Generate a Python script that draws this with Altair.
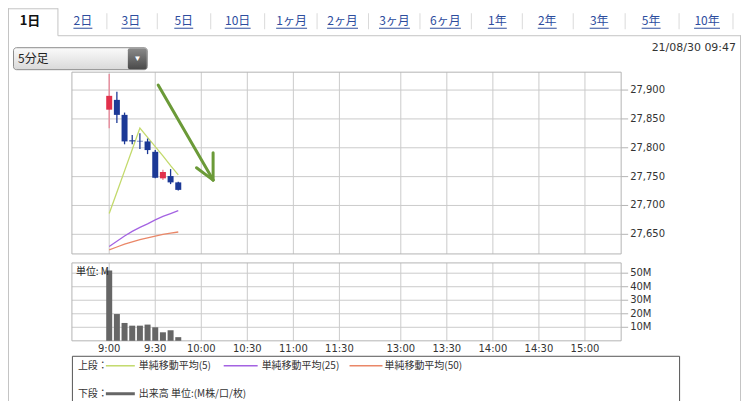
import altair as alt
import pandas as pd

# ---------------- data ----------------
times = [0, 5, 10, 15, 20, 25, 30, 35, 40, 45]          # minutes after 9:00
opens = [27866, 27883, 27857, 27813, 27812, 27811, 27793, 27747, 27751, 27740]
highs = [27928, 27897, 27861, 27822, 27825, 27816, 27796, 27762, 27763, 27741]
lows = [27834, 27843, 27806, 27806, 27798, 27789, 27747, 27744, 27737, 27726]
closes = [27890, 27857, 27811, 27811, 27811, 27796, 27748, 27758, 27740, 27727]
ma5 = [27686, 27723, 27760, 27797, 27834, 27818, 27802, 27786, 27769, 27753]
ma25 = [27629, 27638, 27647, 27655, 27662, 27668, 27675, 27681, 27686, 27691]
ma50 = [27623, 27628, 27633, 27637, 27641, 27644, 27647, 27650, 27652, 27654]
volume_m = [52.0, 19.8, 13.2, 11.2, 11.2, 12.0, 10.0, 6.3, 7.8, 2.7]

time_ticks = [0, 30, 60, 90, 120, 150, 190, 220, 250, 280, 310]
time_labels = ["9:00", "9:30", "10:00", "10:30", "11:00", "11:30",
               "13:00", "13:30", "14:00", "14:30", "15:00"]
price_ticks = [27650, 27700, 27750, 27800, 27850, 27900]
volume_ticks = [10, 20, 30, 40, 50]

# annotation arrow (time, price)
arrow_x0 = [31.9, 56.9, 67.7]
arrow_y0 = [27908.7, 27765.4, 27791.4]
arrow_x1 = [67.7, 67.7, 67.7]
arrow_y1 = [27744, 27744, 27744]

tab_labels = ["1日", "2日", "3日", "5日", "10日", "1ヶ月", "2ヶ月", "3ヶ月",
              "6ヶ月", "1年", "2年", "3年", "5年", "10年"]
legend_labels = ["単純移動平均(5)", "単純移動平均(25)", "単純移動平均(50)"]
legend_vol_label = "出来高 単位:(M株/口/枚)"
dropdown_label = "5分足"
timestamp = "21/08/30 09:47"

# ---------------- styles / layout ----------------
RED, RED_WICK, BLUE = "#e2304c", "#e98597", "#1c3996"
C5, C25, C50, CVOL = "#c3da6c", "#a463e2", "#ea8768", "#666666"
ARROW = "#6b9a38"
GRID, BORDER = "#cbcbcb", "#b4b4b4"
NUMFONT, JPFONT = "DejaVu Sans", "Noto Sans CJK JP"

X_DOM, X_RNG = [-24.3, 333.6], [64, 614]
P_DOM, P_RNG = [27616, 27931], [246, 64]
V_DOM, V_RNG = [0, 57.6], [333, 255]
MIN_PER_PX = (X_DOM[1] - X_DOM[0]) / (X_RNG[1] - X_RNG[0])
TICK_END = X_DOM[1] + 7 * MIN_PER_PX

xs = alt.Scale(domain=X_DOM, range=X_RNG, nice=False, zero=False, padding=0)
ps = alt.Scale(domain=P_DOM, range=P_RNG, nice=False, zero=False)
vs = alt.Scale(domain=V_DOM, range=V_RNG, nice=False, zero=False)


def X(f):
    return alt.X(f, scale=xs, axis=None, title=None)


def YP(f):
    return alt.Y(f, scale=ps, axis=None, title=None)


def YV(f):
    return alt.Y(f, scale=vs, axis=None, title=None)


# ---------------- price panel ----------------
cdf = pd.DataFrame({"t": times, "o": opens, "h": highs, "l": lows, "c": closes})
cdf["bc"] = [RED if c >= o else BLUE for o, c in zip(opens, closes)]
cdf["wc"] = [RED_WICK if c >= o else BLUE for o, c in zip(opens, closes)]

pgrid = pd.DataFrame({"p": price_ticks, "x0": X_DOM[0], "x1": X_DOM[1], "xt": TICK_END,
                      "lab": [f"{p:,}" for p in price_ticks]})
tgrid_p = pd.DataFrame({"t": time_ticks, "y0": P_DOM[0], "y1": P_DOM[1]})
pbox = pd.DataFrame({"x0": [X_DOM[0]], "x1": [X_DOM[1]], "y0": [P_DOM[0]], "y1": [P_DOM[1]]})

p_hgrid = alt.Chart(pgrid).mark_rule(color=GRID, strokeWidth=1).encode(
    x=X("x0:Q"), x2="x1:Q", y=YP("p:Q"))
p_ticks = alt.Chart(pgrid).mark_rule(color=BORDER, strokeWidth=1).encode(
    x=X("x1:Q"), x2="xt:Q", y=YP("p:Q"))
p_labels = alt.Chart(pgrid).mark_text(font=NUMFONT, fontSize=10, color="#333",
                                      align="left", baseline="middle", dx=9).encode(
    x=X("x1:Q"), y=YP("p:Q"), text="lab:N")
p_vgrid = alt.Chart(tgrid_p).mark_rule(color=GRID, strokeWidth=1).encode(
    x=X("t:Q"), y=YP("y0:Q"), y2="y1:Q")
p_box = alt.Chart(pbox).mark_rect(fillOpacity=0, stroke=BORDER, strokeWidth=1).encode(
    x=X("x0:Q"), x2="x1:Q", y=YP("y0:Q"), y2="y1:Q")

malines = []
for vals, col in [(ma50, C50), (ma25, C25), (ma5, C5)]:
    mdf = pd.DataFrame({"t": times, "v": vals})
    malines.append(alt.Chart(mdf).mark_line(color=col, strokeWidth=1.3).encode(
        x=X("t:Q"), y=YP("v:Q")))

wicks = alt.Chart(cdf).mark_rule(strokeWidth=1.3).encode(
    x=X("t:Q"), y=YP("l:Q"), y2="h:Q", color=alt.Color("wc:N", scale=None))
bodies = alt.Chart(cdf).mark_bar(size=6).encode(
    x=X("t:Q"), y=YP("o:Q"), y2="c:Q", color=alt.Color("bc:N", scale=None))

adf = pd.DataFrame({"x0": arrow_x0, "y0": arrow_y0, "x1": arrow_x1, "y1": arrow_y1})
arrow = alt.Chart(adf).mark_rule(color=ARROW, strokeWidth=3, strokeCap="round").encode(
    x=X("x0:Q"), x2="x1:Q", y=YP("y0:Q"), y2="y1:Q")

price_panel = alt.layer(p_hgrid, p_vgrid, p_box, p_ticks, p_labels, *malines,
                        wicks, bodies, arrow)

# ---------------- volume panel ----------------
vdf = pd.DataFrame({"t": times, "v": volume_m, "z": 0})
vgrid = pd.DataFrame({"v": volume_ticks, "x0": X_DOM[0], "x1": X_DOM[1], "xt": TICK_END,
                      "lab": [f"{v}M" for v in volume_ticks]})
tgrid_v = pd.DataFrame({"t": time_ticks, "y0": V_DOM[0], "y1": V_DOM[1],
                        "lab": time_labels})
vbox = pd.DataFrame({"x0": [X_DOM[0]], "x1": [X_DOM[1]], "y0": [V_DOM[0]], "y1": [V_DOM[1]]})

v_hgrid = alt.Chart(vgrid).mark_rule(color=GRID, strokeWidth=1).encode(
    x=X("x0:Q"), x2="x1:Q", y=YV("v:Q"))
v_ticks = alt.Chart(vgrid).mark_rule(color=BORDER, strokeWidth=1).encode(
    x=X("x1:Q"), x2="xt:Q", y=YV("v:Q"))
v_labels = alt.Chart(vgrid).mark_text(font=NUMFONT, fontSize=10, color="#333",
                                      align="left", baseline="middle", dx=9).encode(
    x=X("x1:Q"), y=YV("v:Q"), text="lab:N")
v_vgrid = alt.Chart(tgrid_v).mark_rule(color=GRID, strokeWidth=1).encode(
    x=X("t:Q"), y=YV("y0:Q"), y2="y1:Q")
t_labels = alt.Chart(tgrid_v).mark_text(font=NUMFONT, fontSize=10, color="#333",
                                        align="center", baseline="middle", dy=8).encode(
    x=X("t:Q"), y=YV("y0:Q"), text="lab:N")
v_box = alt.Chart(vbox).mark_rect(fillOpacity=0, stroke=BORDER, strokeWidth=1).encode(
    x=X("x0:Q"), x2="x1:Q", y=YV("y0:Q"), y2="y1:Q")
v_bars = alt.Chart(vdf).mark_bar(size=6, color=CVOL).encode(
    x=X("t:Q"), y=YV("v:Q"), y2="z:Q")

volume_panel = alt.layer(v_hgrid, v_vgrid, v_box, v_ticks, v_labels, t_labels, v_bars)

# ---------------- decorations (pixel layout) ----------------
def PX(f):
    return alt.X(f, scale=None)


def PY(f):
    return alt.Y(f, scale=None)


unit_txt = alt.Chart(pd.DataFrame({"s": ["単位: M"], "px": [68], "py": [264]})).mark_text(
    font=JPFONT, fontSize=10, color="#222", align="left", baseline="middle").encode(
    x=PX("px:Q"), y=PY("py:Q"), text="s:N")

tab_x = [22, 75, 123, 176, 230, 284, 335, 387, 438, 490, 540, 592, 644, 700]
tab_y = 12.5


def text_w(s, fs=12):
    return sum(0.58 * fs if ch.isdigit() else fs for ch in s)


tabs_df = pd.DataFrame({"s": tab_labels, "px": tab_x, "py": tab_y,
                        "c": ["#111"] + ["#2d4d9e"] * (len(tab_labels) - 1)})
tab_sel = alt.Chart(tabs_df.iloc[:1]).mark_text(
    font=JPFONT, fontSize=13, fontWeight="bold", baseline="middle").encode(
    x=PX("px:Q"), y=PY("py:Q"), text="s:N", color=alt.Color("c:N", scale=None))
tab_txt = alt.Chart(tabs_df.iloc[1:]).mark_text(
    font=JPFONT, fontSize=12, baseline="middle").encode(
    x=PX("px:Q"), y=PY("py:Q"), text="s:N", color=alt.Color("c:N", scale=None))

ul = pd.DataFrame({"x0": [x - text_w(s) / 2 for x, s in zip(tab_x[1:], tab_labels[1:])],
                   "x1": [x + text_w(s) / 2 for x, s in zip(tab_x[1:], tab_labels[1:])],
                   "py": tab_y + 7.5})
tab_ul = alt.Chart(ul).mark_rule(color="#2d4d9e", strokeWidth=1).encode(
    x=PX("x0:Q"), x2="x1:Q", y=PY("py:Q"))
seps = pd.DataFrame({"px": [(a + b) / 2 for a, b in zip(tab_x[1:-1], tab_x[2:])] + [726],
                     "y0": 5, "y1": 21})
tab_sep = alt.Chart(seps).mark_rule(color="#dadada", strokeWidth=1).encode(
    x=PX("px:Q"), y=PY("y0:Q"), y2="y1:Q")

frame = pd.DataFrame({"x0": [50, 0.5, 0, 50, 733.5], "x1": [734, 0.5, 50, 50, 733.5],
                      "y0": [27.5, 0, 0.5, 0, 27], "y1": [27.5, 400, 0.5, 27.5, 400]})
frame_l = alt.Chart(frame).mark_rule(color="#c4c4c4", strokeWidth=1).encode(
    x=PX("x0:Q"), x2="x1:Q", y=PY("y0:Q"), y2="y1:Q")

grad_light = alt.Gradient(gradient="linear", x1=0, x2=0, y1=0, y2=1,
                          stops=[alt.GradientStop(color="#fbfbfb", offset=0),
                                 alt.GradientStop(color="#d9d9d9", offset=1)])
grad_dark = alt.Gradient(gradient="linear", x1=0, x2=0, y1=0, y2=1,
                         stops=[alt.GradientStop(color="#8a8a8a", offset=0),
                                alt.GradientStop(color="#4a4a4a", offset=1)])
dd = pd.DataFrame({"x0": [5.5], "x1": [139.5], "y0": [39.5], "y1": [61.5]})
dd_box = alt.Chart(dd).mark_rect(color=grad_light, stroke="#8c8c8c", strokeWidth=1,
                                 cornerRadius=3).encode(
    x=PX("x0:Q"), x2="x1:Q", y=PY("y0:Q"), y2="y1:Q")
ddb = pd.DataFrame({"x0": [120], "x1": [139], "y0": [40], "y1": [61]})
dd_btn = alt.Chart(ddb).mark_rect(color=grad_dark, cornerRadius=2).encode(
    x=PX("x0:Q"), x2="x1:Q", y=PY("y0:Q"), y2="y1:Q")
dd_arrow = alt.Chart(pd.DataFrame({"s": ["▼"], "px": [129.5], "py": [50.5]})).mark_text(
    fontSize=8, color="#ffffff", baseline="middle").encode(
    x=PX("px:Q"), y=PY("py:Q"), text="s:N")
dd_txt = alt.Chart(pd.DataFrame({"s": [dropdown_label], "px": [10], "py": [50.5]})).mark_text(
    font=JPFONT, fontSize=12, color="#222", align="left", baseline="middle").encode(
    x=PX("px:Q"), y=PY("py:Q"), text="s:N")
ts_txt = alt.Chart(pd.DataFrame({"s": [timestamp], "px": [729], "py": [39.5]})).mark_text(
    font=NUMFONT, fontSize=11, color="#333", align="right", baseline="middle").encode(
    x=PX("px:Q"), y=PY("py:Q"), text="s:N")

# legend box
lg_box_df = pd.DataFrame({"x0": [64.5], "x1": [672.5], "y0": [348.5], "y1": [394.5]})
lg_box = alt.Chart(lg_box_df).mark_rect(fill="#ffffff", stroke="#555555", strokeWidth=1).encode(
    x=PX("x0:Q"), x2="x1:Q", y=PY("y0:Q"), y2="y1:Q")
row1, row2 = 358, 386
lg_txt_df = pd.DataFrame({
    "s": ["上段："] + legend_labels + ["下段：", legend_vol_label],
    "px": [70, 131, 254, 377, 70, 131],
    "py": [row1, row1, row1, row1, row2, row2]})
lg_txt = alt.Chart(lg_txt_df).mark_text(font=JPFONT, fontSize=10, color="#333",
                                        align="left", baseline="middle").encode(
    x=PX("px:Q"), y=PY("py:Q"), text="s:N")
lg_line_df = pd.DataFrame({"x0": [98, 216, 342, 98], "x1": [127, 250, 375, 127],
                           "py": [row1, row1, row1, row2],
                           "c": [C5, C25, C50, CVOL], "w": [1.5, 1.5, 1.5, 3]})
lg_lines = alt.Chart(lg_line_df).mark_rule().encode(
    x=PX("x0:Q"), x2="x1:Q", y=PY("py:Q"),
    color=alt.Color("c:N", scale=None), strokeWidth=alt.StrokeWidth("w:Q", scale=None))

deco = alt.layer(frame_l, tab_sep, tab_sel, tab_txt, tab_ul, dd_box, dd_btn, dd_arrow,
                 dd_txt, ts_txt, lg_box, lg_lines, lg_txt, unit_txt)

chart = alt.layer(price_panel, volume_panel, deco).resolve_scale(
    y="independent"
).properties(
    width=614, height=333,
    autosize=alt.AutoSizeParams(type="none"),
    padding={"left": 0, "top": 0, "right": 120, "bottom": 60},
    background="#ffffff",
).configure_view(stroke=None)

chart.save("out.html", embed_options={"renderer": "svg", "actions": False})
